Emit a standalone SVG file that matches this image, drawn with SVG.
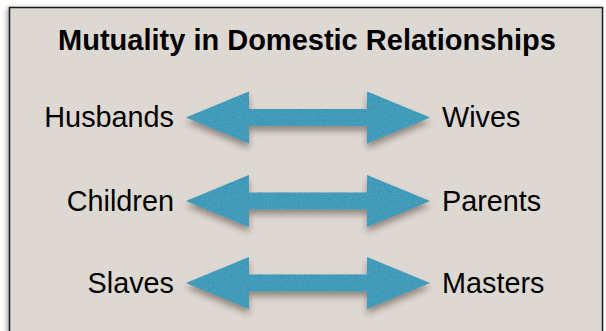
<svg xmlns="http://www.w3.org/2000/svg" width="606" height="331" viewBox="0 0 606 331">
<defs>
<filter id="boxShadow" x="-5%" y="-5%" width="110%" height="110%">
<feGaussianBlur in="SourceAlpha" stdDeviation="2.5"/>
<feOffset dx="-2" dy="1" result="b"/>
<feComponentTransfer><feFuncA type="linear" slope="0.35"/></feComponentTransfer>
<feMerge><feMergeNode/><feMergeNode in="SourceGraphic"/></feMerge>
</filter>
<filter id="arrowFx" x="-10%" y="-20%" width="120%" height="150%">
<feTurbulence type="fractalNoise" baseFrequency="0.8" numOctaves="2" seed="3" result="noise"/>
<feColorMatrix in="noise" type="matrix" values="0 0 0 0 0.10  0 0 0 0 0.38  0 0 0 0 0.50  0 0 0 2.2 -0.9" result="speck"/>
<feComposite in="speck" in2="SourceGraphic" operator="in" result="speckIn"/>
<feMerge result="tex"><feMergeNode in="SourceGraphic"/><feMergeNode in="speckIn"/></feMerge>
<feGaussianBlur in="SourceAlpha" stdDeviation="3" result="sb"/>
<feOffset in="sb" dx="0" dy="5" result="so"/>
<feComponentTransfer in="so" result="shadow"><feFuncA type="linear" slope="0.45"/></feComponentTransfer>
<feFlood flood-color="#3b2a20" result="fc"/>
<feComposite in="fc" in2="shadow" operator="in" result="sh"/>
<feMerge><feMergeNode in="sh"/><feMergeNode in="tex"/></feMerge>
</filter>
<path id="dblArrow" d="M186 0 L249 -26 L249 -8.5 L367 -8.5 L367 -26 L430 0 L367 26 L367 8.5 L249 8.5 L249 26 Z"/>
</defs>
<style>
.lbl{font-family:"Liberation Sans",Arial,Helvetica,sans-serif;font-size:28.8px;fill:#000;}
.title{font-family:"Liberation Sans",Arial,Helvetica,sans-serif;font-size:29px;font-weight:bold;fill:#000;}
.arr{fill:#3b98b9;}
</style>
<rect x="0" y="0" width="606" height="331" fill="#ffffff"/>
<g id="panel">
<rect x="9.5" y="7.5" width="593" height="340" fill="#ded8d3" stroke="#1e1e1e" stroke-width="1.5" filter="url(#boxShadow)"/>
<text class="title" x="307" y="50" text-anchor="middle">Mutuality in Domestic Relationships</text>
</g>
<g id="husbands"><text class="lbl" x="174" y="127" text-anchor="end">Husbands</text></g>
<g id="wives"><text class="lbl" x="442" y="127">Wives</text></g>
<g id="children"><text class="lbl" x="174" y="211" text-anchor="end">Children</text></g>
<g id="parents"><text class="lbl" x="442" y="211">Parents</text></g>
<g id="slaves"><text class="lbl" x="174" y="293" text-anchor="end">Slaves</text></g>
<g id="masters"><text class="lbl" x="442" y="293">Masters</text></g>
<g id="connectors">
<use href="#dblArrow" class="arr" transform="translate(0,117.5)" filter="url(#arrowFx)"/>
<use href="#dblArrow" class="arr" transform="translate(0,201)" filter="url(#arrowFx)"/>
<use href="#dblArrow" class="arr" transform="translate(0,283)" filter="url(#arrowFx)"/>
</g>
</svg>
